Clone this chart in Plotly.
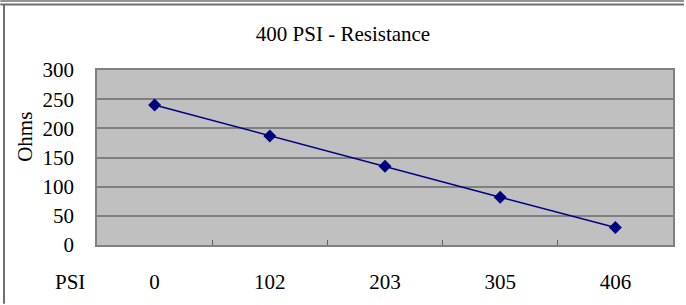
import plotly.graph_objects as go

categories = ["0", "102", "203", "305", "406"]
ohms = [240, 187, 135, 82, 30]
y_ticks = [0, 50, 100, 150, 200, 250, 300]

W, H = 686, 305
L, R, T, B = 97, 11, 70, 59
PW, PH = W - L - R, H - T - B

def xp(px):
    return (px - L) / PW

def yp(py):
    return (H - B - py) / PH

FONT = "Times New Roman"
TXT = dict(family=FONT, size=21, color="black")

fig = go.Figure()
fig.add_trace(go.Scatter(
    x=categories, y=ohms, mode="lines+markers",
    line=dict(color="#000080", width=1.5),
    marker=dict(symbol="diamond", size=10, color="#000080"),
    showlegend=False, hoverinfo="skip",
))

fig.update_layout(
    width=W, height=H,
    margin=dict(l=L, r=R, t=T, b=B),
    paper_bgcolor="white",
    plot_bgcolor="#c0c0c0",
    title=dict(text="400 PSI - Resistance", x=0.5, xanchor="center",
               y=1 - 34 / H, yanchor="middle", font=TXT),
)

fig.update_xaxes(
    type="category", range=[-0.5, 4.5],
    showgrid=False, zeroline=False,
    showline=True, linecolor="#808080", linewidth=1.5, mirror=True,
    ticks="inside", tickson="boundaries", ticklen=5, tickcolor="#606060",
    ticklabelstandoff=17, tickfont=TXT,
)
fig.update_yaxes(
    range=[0, 300], tickvals=y_ticks,
    showgrid=True, gridcolor="#7f7f7f", gridwidth=1.5,
    zeroline=False,
    showline=True, linecolor="#808080", linewidth=1.5, mirror=True,
    ticks="", ticklabelstandoff=17, tickfont=TXT,
)

fig.add_annotation(text="Ohms", xref="paper", yref="paper",
                   x=xp(24), y=yp(137), textangle=-90, showarrow=False,
                   xanchor="center", yanchor="middle", font=TXT)
fig.add_annotation(text="PSI", xref="paper", yref="paper",
                   x=xp(70), y=yp(283), showarrow=False,
                   xanchor="center", yanchor="middle", font=TXT)

# outer frame (top double line and left edge)
fig.add_shape(type="line", xref="paper", yref="paper",
              x0=xp(0), x1=xp(W), y0=yp(0.7), y1=yp(0.7),
              line=dict(color="#6f6f6f", width=1.5))
fig.add_shape(type="line", xref="paper", yref="paper",
              x0=xp(0), x1=xp(W), y0=yp(4), y1=yp(4),
              line=dict(color="#6f6f6f", width=2))
fig.add_shape(type="line", xref="paper", yref="paper",
              x0=xp(3.7), x1=xp(3.7), y0=yp(4), y1=yp(H),
              line=dict(color="#6f6f6f", width=2))

fig.write_html("out.html", config={"displayModeBar": False},
               post_script="document.body.style.margin='0';")
